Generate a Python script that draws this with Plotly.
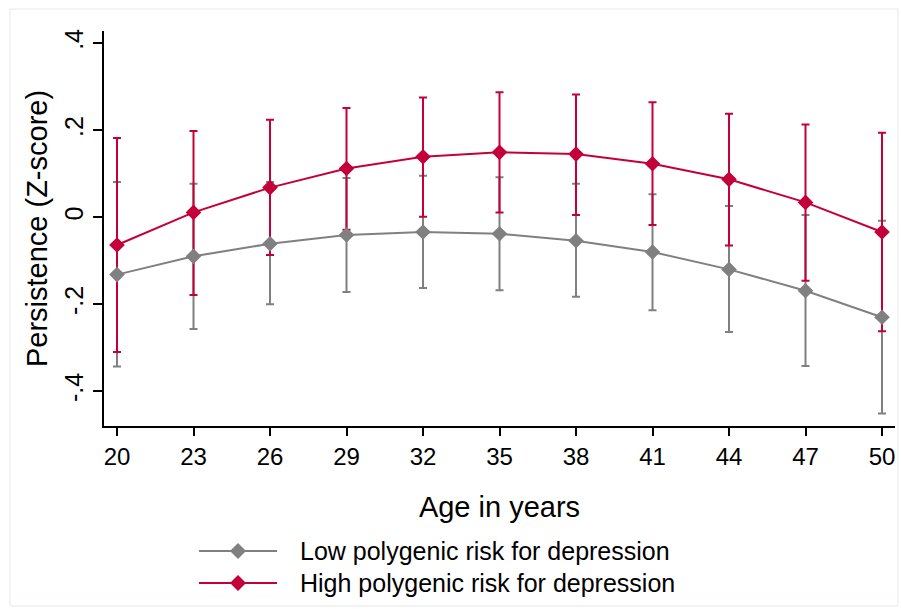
import plotly.graph_objects as go

# ---- data ----
ages = [20, 23, 26, 29, 32, 35, 38, 41, 44, 47, 50]

low_mean = [-0.132, -0.090, -0.061, -0.041, -0.034, -0.038, -0.054, -0.080, -0.120, -0.169, -0.230]
low_upper = [0.081, 0.077, 0.081, 0.090, 0.095, 0.092, 0.077, 0.053, 0.026, 0.005, -0.008]
low_lower = [-0.343, -0.257, -0.200, -0.172, -0.163, -0.168, -0.183, -0.214, -0.264, -0.342, -0.451]

high_mean = [-0.064, 0.011, 0.068, 0.112, 0.139, 0.149, 0.145, 0.123, 0.087, 0.034, -0.034]
high_upper = [0.182, 0.198, 0.224, 0.251, 0.275, 0.287, 0.282, 0.264, 0.238, 0.213, 0.194]
high_lower = [-0.310, -0.179, -0.087, -0.029, 0.001, 0.011, 0.005, -0.018, -0.065, -0.146, -0.262]

y_tickvals = [-0.4, -0.2, 0, 0.2, 0.4]
y_ticktext = ["-.4", "-.2", "0", ".2", ".4"]

series_names = ["Low polygenic risk for depression", "High polygenic risk for depression"]

GRAY = "#808080"
RED = "#C4003A"
FONT = "Liberation Sans, Arial, Helvetica, sans-serif"

fig = go.Figure()

# CI caps (drawn first, like Stata rcap layers)
for mean, up, lo, col in [(low_mean, low_upper, low_lower, GRAY),
                          (high_mean, high_upper, high_lower, RED)]:
    fig.add_trace(go.Scatter(
        x=ages, y=mean, mode="markers",
        marker=dict(size=2, color="rgba(0,0,0,0)"),
        error_y=dict(type="data", symmetric=False,
                     array=[u - m for u, m in zip(up, mean)],
                     arrayminus=[m - l for m, l in zip(mean, lo)],
                     color=col, thickness=2, width=4),
        showlegend=False, hoverinfo="skip"))

# connected lines with diamond markers
for mean, col, name in [(low_mean, GRAY, series_names[0]),
                        (high_mean, RED, series_names[1])]:
    fig.add_trace(go.Scatter(
        x=ages, y=mean, mode="lines+markers", name=name,
        line=dict(color=col, width=2),
        marker=dict(symbol="diamond", size=12, color=col),
        showlegend=False))

# plot area in pixels: x 104..895, y 31..426
L, R, T, B = 104, 895, 31, 426
W, H = R - L, B - T


def px(x):
    return (x - L) / W


def py(y):
    return (B - y) / H


shapes = []
annotations = []
# manual legend (Stata style, long line sample)
for i, (name, col) in enumerate(zip(series_names, [GRAY, RED])):
    yy = [551, 583][i]
    shapes.append(dict(type="line", xref="paper", yref="paper",
                       x0=px(199), x1=px(277), y0=py(yy), y1=py(yy),
                       line=dict(color=col, width=2)))
    shapes.append(dict(type="path", xref="paper", yref="paper",
                       xsizemode="pixel", ysizemode="pixel",
                       xanchor=px(238), yanchor=py(yy),
                       path="M-8,0 L0,8 L8,0 L0,-8 Z",
                       fillcolor=col, line=dict(color=col, width=0)))
    annotations.append(dict(text=name, xref="paper", yref="paper",
                            x=px(298), y=py(yy), xanchor="left", yanchor="middle",
                            showarrow=False, font=dict(size=25, color="black", family=FONT)))

# outer frame
shapes.append(dict(type="rect", xref="paper", yref="paper",
                   x0=px(10), x1=px(898), y0=py(606), y1=py(9),
                   line=dict(color="#E4EAEA", width=1), layer="below"))

fig.update_layout(
    width=901, height=609, autosize=False,
    margin=dict(l=L, r=901 - R, t=T, b=609 - B, pad=0),
    paper_bgcolor="white", plot_bgcolor="white",
    font=dict(family=FONT, color="black"),
    shapes=shapes, annotations=annotations,
    xaxis=dict(range=[19.49, 50.51], tickvals=ages, ticks="outside", ticklen=8,
               tickwidth=2, tickcolor="black", showline=True, linewidth=2,
               linecolor="black", showgrid=False, zeroline=False,
               tickfont=dict(size=24),
               title=dict(text="Age in years", font=dict(size=29), standoff=28)),
    yaxis=dict(range=[-0.48, 0.428], tickvals=y_tickvals, ticktext=y_ticktext,
               tickangle=-90, ticks="outside", ticklen=9, tickwidth=2,
               tickcolor="black", showline=True, linewidth=2, linecolor="black",
               showgrid=False, zeroline=False, tickfont=dict(size=25),
               title=dict(text="Persistence (Z-score)", font=dict(size=29), standoff=4)),
)

fig.write_html("out.html", post_script="document.body.style.margin='0';",
               config={"displayModeBar": False})
